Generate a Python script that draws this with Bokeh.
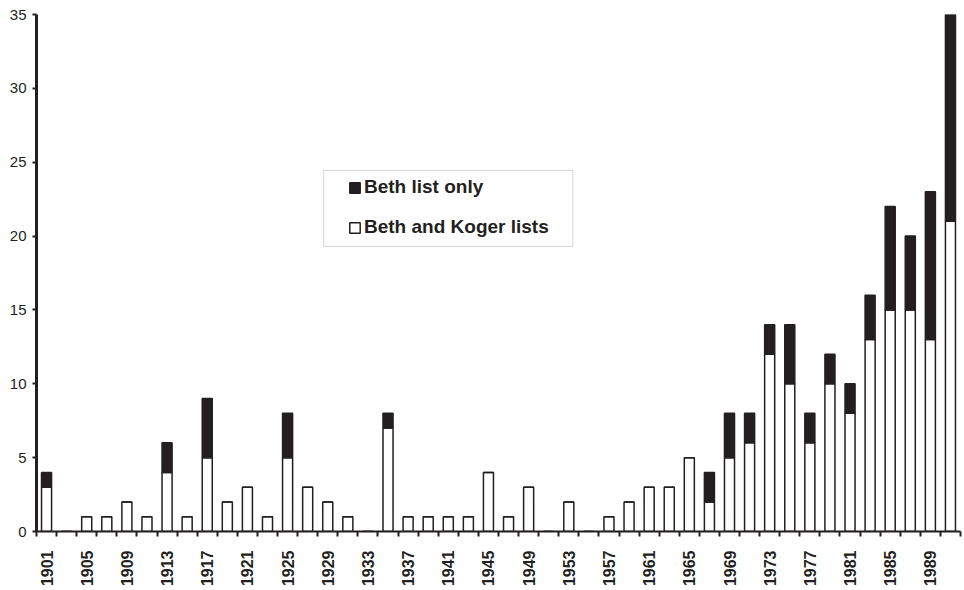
import math
from bokeh.plotting import figure
from bokeh.models import (ColumnDataSource, FixedTicker, Legend, LegendItem,
                          BoxAnnotation, Range1d)
from bokeh.embed import file_html
from bokeh.resources import INLINE

years = list(range(1901, 1992, 2))
beth_and_koger = [3, 0, 1, 1, 2, 1, 4, 1, 5, 2, 3, 1, 5, 3, 2, 1, 0, 7, 1, 1,
                  1, 1, 4, 1, 3, 0, 2, 0, 1, 2, 3, 3, 5, 2, 5, 6, 12, 10, 6, 10,
                  8, 13, 15, 15, 13, 21]
beth_only = [1, 0, 0, 0, 0, 0, 2, 0, 4, 0, 0, 0, 3, 0, 0, 0, 0, 1, 0, 0,
             0, 0, 0, 0, 0, 0, 0, 0, 0, 0, 0, 0, 0, 2, 3, 2, 2, 4, 2, 2,
             2, 3, 7, 5, 10, 14]
y_ticks = [0, 5, 10, 15, 20, 25, 30, 35]

FONT = "Liberation Sans"
INK = "#231f20"

src = ColumnDataSource(dict(year=years, both=beth_and_koger, only=beth_only))

p = figure(width=964, height=590, output_backend="svg", toolbar_location=None,
           x_range=Range1d(years[0] - 1, years[-1] + 1),
           y_range=Range1d(0, 35),
           min_border_left=36, min_border_right=4, min_border_top=14,
           min_border_bottom=59)
p.outline_line_color = None
p.xgrid.visible = False
p.ygrid.visible = False
p.background_fill_color = "white"
p.border_fill_color = "white"

rs = p.vbar_stack(["both", "only"], x="year", width=1.0, source=src,
                  fill_color=["white", INK], line_color=INK, line_width=1.5)

# x axis
xa = p.xaxis[0]
xa.ticker = FixedTicker(ticks=years[::2],
                        minor_ticks=[y - 1 for y in years] + [years[-1] + 1])
xa.major_tick_out = 0
xa.major_tick_in = 0
xa.minor_tick_out = 5
xa.minor_tick_in = 0
xa.minor_tick_line_color = INK
xa.minor_tick_line_width = 2
xa.axis_line_color = INK
xa.axis_line_width = 2
xa.major_label_orientation = math.pi / 2
xa.major_label_standoff = 14
xa.major_label_text_font = FONT
xa.major_label_text_font_style = "bold"
xa.major_label_text_font_size = "16px"
xa.major_label_text_color = INK

# y axis
ya = p.yaxis[0]
ya.ticker = FixedTicker(ticks=y_ticks)
ya.major_tick_out = 4
ya.major_tick_in = 0
ya.minor_tick_out = 0
ya.minor_tick_in = 0
ya.major_tick_line_color = INK
ya.major_tick_line_width = 2
ya.axis_line_color = INK
ya.axis_line_width = 3
ya.major_label_standoff = 6
ya.major_label_text_font = FONT
ya.major_label_text_font_size = "15px"
ya.major_label_text_color = INK

# legend box border
p.add_layout(BoxAnnotation(left=1928.6, right=1953.4, top=24.45, bottom=19.3,
                           fill_alpha=0, line_color="#777", line_width=1))

legend = Legend(items=[LegendItem(label="Beth list only", renderers=[rs[1]]),
                       LegendItem(label="Beth and Koger lists", renderers=[rs[0]])],
                location=(312, 293), padding=0, margin=0, spacing=18,
                glyph_width=13, glyph_height=13, label_height=22,
                label_standoff=3,
                label_text_font=FONT, label_text_font_style="bold",
                label_text_font_size="19px", label_text_color=INK,
                border_line_alpha=0, background_fill_alpha=0)
p.add_layout(legend, "center")

open("out.html", "w").write(file_html(p, INLINE))
